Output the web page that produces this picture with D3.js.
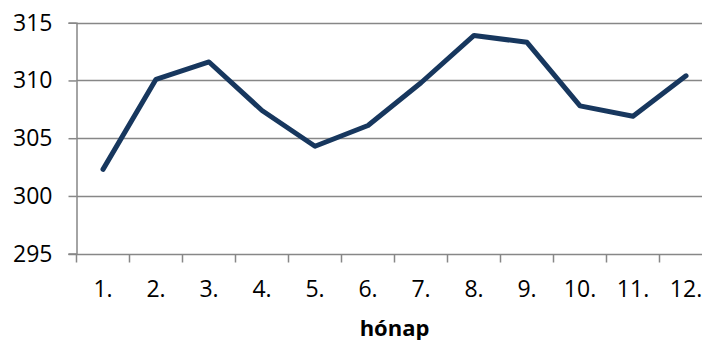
<!DOCTYPE html>
<html>
<head>
<meta charset="utf-8">
<script src="https://cdn.jsdelivr.net/npm/d3@7"></script>
<style>
  html, body { margin: 0; padding: 0; background: #fff; }
  svg { display: block; }
  text { font-family: "Open Sans", "Liberation Sans", sans-serif; fill: #000; }
</style>
</head>
<body>
<svg id="chart" width="702" height="340"></svg>
<script>
// Monthly values
const months = ["1.", "2.", "3.", "4.", "5.", "6.", "7.", "8.", "9.", "10.", "11.", "12."];
const values = [302.3, 310.1, 311.6, 307.4, 304.3, 306.1, 309.8, 313.9, 313.3, 307.8, 306.9, 310.4];
const yTicks = [295, 300, 305, 310, 315];
const xTitle = "hónap";

const svg = d3.select("#chart");
const plotLeft = 76.5, plotTop = 22.7, plotBottom = 253.7;
const bandW = 53;
const plotRight = plotLeft + bandW * months.length;

const x = d3.scaleBand().domain(months).range([plotLeft, plotRight]).paddingInner(0).paddingOuter(0);
const y = d3.scaleLinear().domain([295, 315]).range([plotBottom, plotTop]);

const grey = "#878787";

// horizontal gridlines
svg.append("g")
  .selectAll("line")
  .data(yTicks.filter(t => t !== 295))
  .join("line")
  .attr("x1", plotLeft).attr("x2", plotRight)
  .attr("y1", d => Math.round(y(d)) + 0.5).attr("y2", d => Math.round(y(d)) + 0.5)
  .attr("stroke", grey).attr("stroke-width", 1.5);

// y axis
const yAxis = svg.append("g")
  .attr("transform", `translate(${plotLeft},0)`)
  .call(d3.axisLeft(y).tickValues(yTicks).tickSize(8).tickPadding(16).tickFormat(d3.format("d")));
yAxis.select(".domain").attr("stroke", grey).attr("stroke-width", 1.5);
yAxis.selectAll(".tick line").attr("stroke", grey).attr("stroke-width", 1.5);
yAxis.selectAll("text").attr("font-size", 23).attr("fill", "#000")
  .attr("font-family", "'Open Sans', sans-serif");

// x axis with tick marks on category boundaries
const xAxisG = svg.append("g").attr("transform", `translate(0,${Math.round(plotBottom) + 0.5})`);
xAxisG.append("line")
  .attr("x1", plotLeft - 8).attr("x2", plotRight)
  .attr("stroke", grey).attr("stroke-width", 1.5);
xAxisG.selectAll("line.tk")
  .data(d3.range(months.length + 1))
  .join("line").attr("class", "tk")
  .attr("x1", i => plotLeft + i * x.bandwidth()).attr("x2", i => plotLeft + i * x.bandwidth())
  .attr("y1", 0).attr("y2", 8)
  .attr("stroke", grey).attr("stroke-width", 1.5);
xAxisG.selectAll("text")
  .data(months)
  .join("text")
  .attr("x", d => x(d) + x.bandwidth() / 2)
  .attr("y", 42)
  .attr("text-anchor", "middle")
  .attr("font-size", 23)
  .text(d => d);

// axis title
svg.append("text")
  .attr("x", (plotLeft + plotRight) / 2)
  .attr("y", 336)
  .attr("text-anchor", "middle")
  .attr("font-size", 22)
  .attr("font-weight", "bold")
  .text(xTitle);

// series line
const line = d3.line()
  .x((d, i) => x(months[i]) + x.bandwidth() / 2)
  .y(d => y(d));

svg.append("path")
  .datum(values)
  .attr("d", line)
  .attr("fill", "none")
  .attr("stroke", "#17375E")
  .attr("stroke-width", 5)
  .attr("stroke-linejoin", "round")
  .attr("stroke-linecap", "round");
</script>
</body>
</html>
